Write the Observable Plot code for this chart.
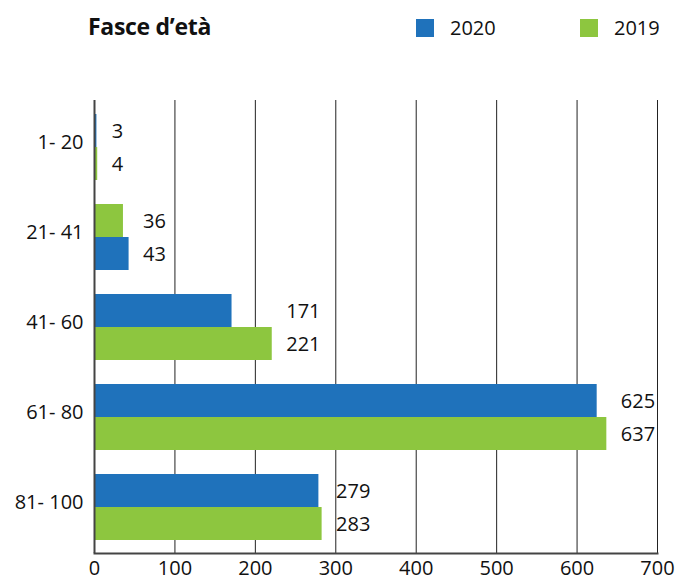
<!DOCTYPE html>
<html>
<head>
<meta charset="utf-8">
<script src="https://cdn.jsdelivr.net/npm/d3@7"></script>
<script src="https://cdn.jsdelivr.net/npm/@observablehq/plot@0.6"></script>
<style>
  body { margin: 0; background: #fff; font-family: "Open Sans", sans-serif; }
  #wrap { width: 676px; height: 580px; position: relative; }
  #header { position: relative; height: 90px; }
  #title { position: absolute; left: 88px; top: 10px; font-size: 23px; font-weight: 700; color: #111; letter-spacing: -0.3px; }
  .lg { position: absolute; top: 14px; display: flex; align-items: center; font-size: 20px; color: #111; }
  .sw { width: 18px; height: 18px; margin-right: 16px; }
</style>
</head>
<body>
<div id="wrap">
  <div id="header">
    <div id="title">Fasce d’età</div>
  </div>
  <div id="chart"></div>
</div>
<script>
const groups = ["1- 20", "21- 41", "41- 60", "61- 80", "81- 100"];
const v2020 = [3, 43, 171, 625, 279];
const v2019 = [4, 36, 221, 637, 283];
// which series sits in the upper slot of each group (as in the original)
const topSeries = ["2020", "2019", "2020", "2020", "2020"];
const seriesNames = ["2020", "2019"];
const seriesColors = ["#1f72bb", "#8dc63f"];
const xTicks = [0, 100, 200, 300, 400, 500, 600, 700];

// legend
const header = document.getElementById("header");
const legendX = [416, 580];
seriesNames.forEach((s, i) => {
  const d = document.createElement("div");
  d.className = "lg";
  d.style.left = legendX[i] + "px";
  d.innerHTML = `<div class="sw" style="background:${seriesColors[i]}"></div><span>${s}</span>`;
  header.appendChild(d);
});

const rows = groups.flatMap((g, i) => [
  {group: g, year: "2020", value: v2020[i], slot: topSeries[i] === "2020" ? "top" : "bottom", max: Math.max(v2020[i], v2019[i])},
  {group: g, year: "2019", value: v2019[i], slot: topSeries[i] === "2019" ? "top" : "bottom", max: Math.max(v2020[i], v2019[i])}
]);
const topRows = rows.filter(d => d.slot === "top");
const botRows = rows.filter(d => d.slot === "bottom");

const half = 33;

const chart = Plot.plot({
  width: 676,
  height: 490,
  marginTop: 10,
  marginBottom: 27,
  marginLeft: 94,
  marginRight: 19,
  style: {fontFamily: "Open Sans, sans-serif", fontSize: "20px", color: "#111", background: "#fff"},
  x: {domain: [0, 700], label: null},
  y: {domain: groups, paddingInner: 0.27, paddingOuter: 0.13, label: null},
  color: {domain: seriesNames, range: seriesColors},
  marks: [
    Plot.ruleX(xTicks.slice(1), {stroke: "#222", strokeWidth: 1}),
    Plot.barX(topRows, {x: "value", y: "group", fill: "year", insetBottom: half}),
    Plot.barX(botRows, {x: "value", y: "group", fill: "year", insetTop: half}),
    Plot.text(topRows, {x: "max", y: "group", text: d => String(d.value), dx: 14, dy: -16, textAnchor: "start", fill: "#111", fontSize: 20}),
    Plot.text(botRows, {x: "max", y: "group", text: d => String(d.value), dx: 14, dy: 17, textAnchor: "start", fill: "#111", fontSize: 20}),
    Plot.axisX({ticks: xTicks, tickSize: 0, tickPadding: 7, fontSize: 20, label: null, fill: "#111"}),
    Plot.axisY({tickSize: 0, tickPadding: 11, fontSize: 20, dy: -5, label: null, fill: "#111"}),
    Plot.ruleX([0], {stroke: "#444", strokeWidth: 2}),
    Plot.frame({anchor: "bottom", stroke: "#444", strokeWidth: 2})
  ]
});
document.getElementById("chart").appendChild(chart);
</script>
</body>
</html>
